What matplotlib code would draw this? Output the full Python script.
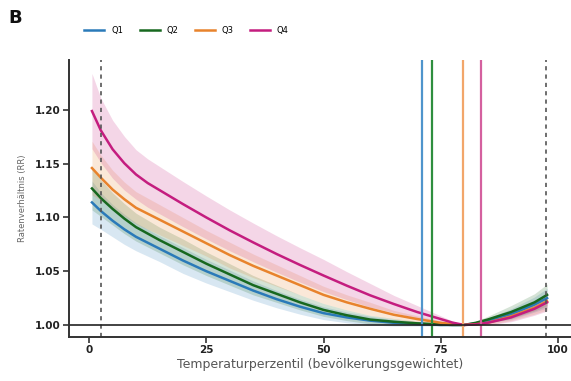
import matplotlib
matplotlib.use("Agg")
import matplotlib.pyplot as plt
import numpy as np

pct = [0.6, 2.5, 5, 7.5, 10, 12.5, 15, 20, 25, 30, 35, 40, 45, 50,
       55, 60, 65, 70, 75, 77.5, 80, 82.5, 85, 90, 95, 97.7]

# rate ratios per quartile
rr_q1 = [1.114, 1.106, 1.097, 1.089, 1.082, 1.0765, 1.071, 1.060, 1.050, 1.041, 1.032, 1.024, 1.017, 1.011,
         1.007, 1.004, 1.002, 1.001, 1.000, 1.000, 1.000, 1.0015, 1.004, 1.010, 1.019, 1.025]
rr_q2 = [1.127, 1.118, 1.108, 1.099, 1.091, 1.085, 1.079, 1.068, 1.057, 1.047, 1.037, 1.029, 1.021, 1.014,
         1.009, 1.005, 1.003, 1.0015, 1.0005, 1.000, 1.000, 1.002, 1.005, 1.012, 1.021, 1.028]
rr_q3 = [1.146, 1.137, 1.126, 1.117, 1.109, 1.1035, 1.098, 1.087, 1.076, 1.065, 1.055, 1.046, 1.037, 1.028,
         1.021, 1.015, 1.0095, 1.0055, 1.002, 1.0008, 1.000, 1.0007, 1.002, 1.008, 1.016, 1.022]
rr_q4 = [1.199, 1.181, 1.1635, 1.1505, 1.140, 1.132, 1.1255, 1.1125, 1.100, 1.088, 1.0768, 1.066, 1.0558, 1.046,
         1.0365, 1.0275, 1.0195, 1.012, 1.0055, 1.0022, 1.000, 1.0005, 1.002, 1.007, 1.015, 1.021]

# half widths of the confidence bands
hw_q1 = [0.020, 0.017, 0.015, 0.014, 0.013, 0.0125, 0.012, 0.012, 0.011, 0.010, 0.009, 0.008, 0.007, 0.006,
         0.005, 0.004, 0.003, 0.002, 0.001, 0.0005, 0.000, 0.001, 0.002, 0.005, 0.007, 0.009]
hw_q2 = [0.020, 0.017, 0.015, 0.014, 0.013, 0.0125, 0.012, 0.012, 0.011, 0.010, 0.009, 0.008, 0.007, 0.006,
         0.005, 0.004, 0.003, 0.002, 0.001, 0.0005, 0.000, 0.0015, 0.003, 0.006, 0.008, 0.010]
hw_q3 = [0.025, 0.021, 0.018, 0.016, 0.015, 0.0145, 0.014, 0.013, 0.012, 0.012, 0.011, 0.010, 0.009, 0.008,
         0.007, 0.006, 0.004, 0.003, 0.0015, 0.0008, 0.000, 0.001, 0.002, 0.004, 0.006, 0.008]
hw_q4 = [0.035, 0.030, 0.027, 0.025, 0.023, 0.0225, 0.022, 0.021, 0.020, 0.019, 0.018, 0.017, 0.016, 0.015,
         0.013, 0.011, 0.008, 0.006, 0.003, 0.0015, 0.000, 0.001, 0.002, 0.004, 0.006, 0.008]

labels = ["Q1", "Q2", "Q3", "Q4"]
mmt = [71.0, 73.2, 79.8, 83.6]          # minimum mortality percentile per quartile
ref_pcts = [2.5, 97.5]                  # dashed reference percentiles

colors = ["#2a7ab9", "#17681f", "#e8832c", "#c41d7f"]
vcolors = ["#4f95cc", "#2f8f3f", "#f2a66a", "#d4609f"]

fig = plt.figure(figsize=(5.71, 3.81), dpi=100)
ax = fig.add_axes([0.1208, 0.1155, 0.8792, 0.727])

x = np.array(pct)
series = [(rr_q1, hw_q1), (rr_q2, hw_q2), (rr_q3, hw_q3), (rr_q4, hw_q4)]
for (rr, hw), c in zip(series, colors):
    rr = np.array(rr)
    hw = np.array(hw)
    ax.fill_between(x, rr - hw, rr + hw, color=c, alpha=0.18, lw=0)
for (rr, hw), c, lab in zip(series, colors, labels):
    ax.plot(x, rr, color=c, lw=1.8, label=lab, solid_joinstyle="round")

for m, c in zip(mmt, vcolors):
    ax.axvline(m, color=c, lw=1.6)
for r in ref_pcts:
    ax.axvline(r, color="#555555", lw=1.2, ls=(0, (2.5, 2.5)))

ax.axhline(1.0, color="#222222", lw=1.2)

ax.set_xlim(-4.3, 102.8)
ax.set_ylim(0.9888, 1.2465)
ax.set_xticks([0, 25, 50, 75, 100])
ax.set_yticks([1.00, 1.05, 1.10, 1.15, 1.20])
ax.set_yticklabels(["1.00", "1.05", "1.10", "1.15", "1.20"])

for s in ["top", "right"]:
    ax.spines[s].set_visible(False)
for s in ["left", "bottom"]:
    ax.spines[s].set_color("#333333")
    ax.spines[s].set_linewidth(1.4)

ax.tick_params(axis="both", direction="out", length=4, width=1.2, color="#333333",
               labelsize=7.5, labelcolor="#222222", pad=2)
for t in ax.get_xticklabels() + ax.get_yticklabels():
    t.set_fontweight("bold")

ax.set_xlabel("Temperaturperzentil (bevölkerungsgewichtet)", fontsize=9, color="#555555", labelpad=2)
ax.set_ylabel("Ratenverhältnis (RR)", fontsize=6, color="#666666", labelpad=6)

fig.text(0.014, 0.952, "B", fontsize=13, fontweight="bold", color="#111111", va="center")

handles, labs = ax.get_legend_handles_labels()
fig.legend(handles, labs, loc="center left", bbox_to_anchor=(0.142, 0.921), ncol=4, frameon=False,
           fontsize=6, handlelength=2.4, handletextpad=0.8, columnspacing=2.0, borderaxespad=0)

fig.savefig("out.png", dpi=100)
